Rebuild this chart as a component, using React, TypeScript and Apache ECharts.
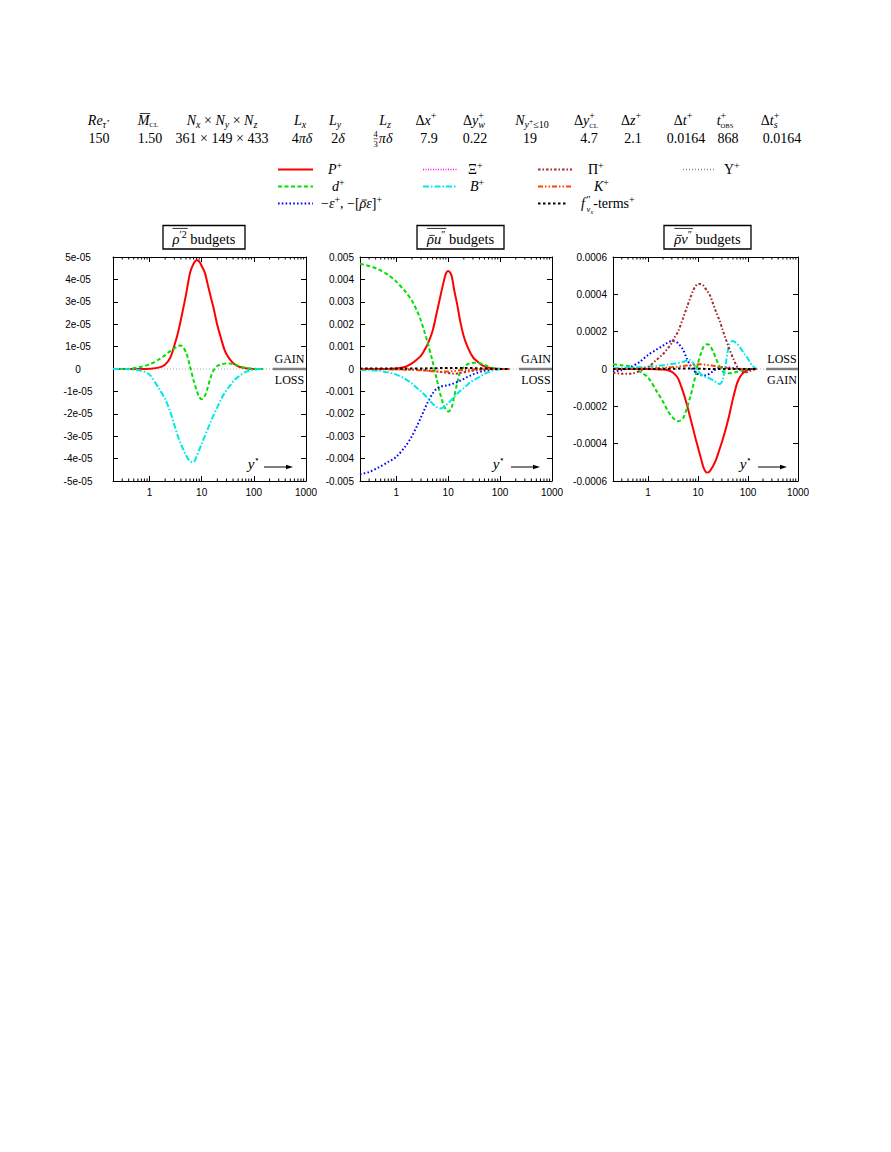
import React, { useEffect, useRef } from 'react';
import * as echarts from 'echarts';

// ---------------- data ----------------
const Y_STAR = [0.2, 0.3, 0.45, 0.7, 1, 1.5, 2, 2.5, 3, 3.5, 4, 5, 6, 7, 8, 9, 10, 11.5, 13, 15, 17, 20, 23, 27, 31, 36, 42, 50, 60, 70, 85, 100, 120, 150];

// rho'^2 budgets
const RHO2_P = [0, 0, 0, 0, 0.01e-5, 0.06e-5, 0.2e-5, 0.5e-5, 1.05e-5, 1.6e-5, 2.2e-5, 3.3e-5, 4.3e-5, 4.7e-5, 4.85e-5, 4.8e-5, 4.6e-5, 4.3e-5, 3.8e-5, 3.2e-5, 2.7e-5, 1.95e-5, 1.45e-5, 0.9e-5, 0.6e-5, 0.38e-5, 0.22e-5, 0.12e-5, 0.06e-5, 0.03e-5, 0.01e-5, 0, 0, 0];
const RHO2_D = [0, 0, 0.02e-5, 0.1e-5, 0.2e-5, 0.42e-5, 0.62e-5, 0.8e-5, 0.92e-5, 1.03e-5, 1.05e-5, 0.75e-5, 0.1e-5, -0.5e-5, -0.95e-5, -1.25e-5, -1.35e-5, -1.2e-5, -0.85e-5, -0.35e-5, -0.05e-5, 0.13e-5, 0.2e-5, 0.24e-5, 0.25e-5, 0.24e-5, 0.2e-5, 0.15e-5, 0.09e-5, 0.05e-5, 0.02e-5, 0.01e-5, 0, 0];
const RHO2_B = [0, 0, -0.02e-5, -0.08e-5, -0.25e-5, -0.85e-5, -1.35e-5, -1.9e-5, -2.5e-5, -3.0e-5, -3.35e-5, -3.85e-5, -4.12e-5, -4.15e-5, -3.9e-5, -3.6e-5, -3.35e-5, -3.0e-5, -2.7e-5, -2.35e-5, -2.05e-5, -1.7e-5, -1.4e-5, -1.1e-5, -0.9e-5, -0.7e-5, -0.5e-5, -0.35e-5, -0.22e-5, -0.13e-5, -0.06e-5, -0.03e-5, -0.01e-5, 0];

// rho u'' budgets
const RU_P = [0, 0, 0, 0, 0.00002, 0.0001, 0.00025, 0.00042, 0.0006, 0.00085, 0.0011, 0.0017, 0.0025, 0.0032, 0.0038, 0.00425, 0.00438, 0.0042, 0.00355, 0.00285, 0.00215, 0.00145, 0.00105, 0.0007, 0.00048, 0.00035, 0.00022, 0.00012, 0.00006, 0.00003, 0.00001, 0, 0, 0];
const RU_D = [0.0047, 0.0046, 0.00445, 0.0042, 0.0039, 0.00345, 0.00305, 0.0026, 0.00215, 0.00165, 0.0012, 0.00035, -0.00045, -0.0011, -0.00155, -0.0018, -0.0019, -0.00175, -0.00125, -0.0006, -0.00015, 0.00008, 0.0002, 0.00026, 0.00028, 0.00028, 0.00025, 0.00018, 0.0001, 0.00005, 0.00002, 0.00001, 0, 0];
const RU_EPS = [-0.0047, -0.0046, -0.0044, -0.00415, -0.00392, -0.00345, -0.003, -0.00255, -0.00215, -0.0018, -0.0015, -0.0011, -0.00088, -0.0008, -0.00076, -0.00074, -0.00072, -0.00068, -0.00064, -0.00058, -0.00052, -0.00044, -0.00036, -0.00029, -0.00023, -0.00017, -0.00012, -0.00008, -0.00004, -0.00002, -0.00001, 0, 0, 0];
const RU_B = [-0.00003, -0.00005, -0.00008, -0.00015, -0.00025, -0.00045, -0.00065, -0.00085, -0.001, -0.00115, -0.0013, -0.00155, -0.0017, -0.00176, -0.00172, -0.00162, -0.00152, -0.00138, -0.00125, -0.0011, -0.00098, -0.00085, -0.00072, -0.00058, -0.0005, -0.00042, -0.00032, -0.00022, -0.00013, -0.00007, -0.00003, -0.00001, 0, 0];
const RU_PI = [0, 0, 0, -0.000005, -0.00001, -0.00002, -0.00003, -0.00004, -0.00005, -0.00006, -0.00007, -0.00009, -0.00011, -0.00013, -0.00015, -0.00017, -0.00018, -0.0002, -0.00021, -0.0002, -0.00018, -0.00015, -0.00012, -0.00009, -0.00007, -0.00005, -0.00003, -0.00002, -0.00001, 0, 0, 0, 0, 0];
const RU_K = [0, 0, -0.00001, -0.000015, -0.00002, -0.00003, -0.00004, -0.00005, -0.00006, -0.00007, -0.00008, -0.0001, -0.00011, -0.00012, -0.00012, -0.000115, -0.00011, -0.0001, -0.00009, -0.000075, -0.00006, -0.00005, -0.00004, -0.00003, -0.00002, -0.000015, -0.00001, -0.000005, 0, 0, 0, 0, 0, 0];
const RU_F = [0.00002, 0.00002, 0.00002, 0.00002, 0.00002, 0.00002, 0.00002, 0.00002, 0.00002, 0.000025, 0.00003, 0.00003, 0.000035, 0.00004, 0.00004, 0.000045, 0.000045, 0.00005, 0.00005, 0.00005, 0.00005, 0.00005, 0.000045, 0.00004, 0.00004, 0.000035, 0.00003, 0.00002, 0.000015, 0.00001, 0.000005, 0, 0, 0];

// rho v'' budgets
const RV_P = [0, 0, 0, 0, 0, -0.000001, -0.000003, -0.000007, -0.000015, -0.00003, -0.00005, -0.00012, -0.00019, -0.00026, -0.00032, -0.000375, -0.00042, -0.00048, -0.00053, -0.000555, -0.00055, -0.00052, -0.000485, -0.00043, -0.00038, -0.00032, -0.00025, -0.00016, -0.00008, -0.00004, -0.000015, -0.000005, 0, 0];
const RV_D = [0.000025, 0.00002, 0.000012, -0.000015, -0.000045, -0.00012, -0.000175, -0.000225, -0.000255, -0.000272, -0.00028, -0.000265, -0.00021, -0.00015, -0.00009, -0.00003, 0.00003, 0.000085, 0.00012, 0.000132, 0.000128, 0.000095, 0.000055, 0.000015, -0.000012, -0.000022, -0.000023, -0.00002, -0.000015, -0.00001, -0.000005, -0.000002, 0, 0];
const RV_EPS = [-0.000015, -0.000005, 0.00001, 0.00004, 0.000075, 0.000105, 0.000125, 0.000142, 0.00015, 0.000147, 0.000138, 0.000105, 0.000055, 0.00002, -0.000005, -0.000018, -0.000028, -0.000033, -0.000035, -0.000033, -0.000025, -0.000012, 0, 0.000008, 0.00001, 0.00001, 0.000008, 0.000005, 0.000003, 0.000001, 0, 0, 0, 0];
const RV_B = [0.000005, 0.000006, 0.000008, 0.00001, 0.000012, 0.000016, 0.00002, 0.000024, 0.000027, 0.000029, 0.000031, 0.000038, 0.000046, 0.000048, 0.00003, 0.00001, -0.000008, -0.000028, -0.000038, -0.000045, -0.00005, -0.00006, -0.00007, -0.00008, -0.00006, 0.00003, 0.00013, 0.00015, 0.000135, 0.000115, 0.00008, 0.000055, 0.00002, 0];
const RV_PI = [-0.00002, -0.000025, -0.000025, -0.00001, 0.00001, 0.00005, 0.00008, 0.00011, 0.00014, 0.000175, 0.0002, 0.00027, 0.00033, 0.00038, 0.00042, 0.000445, 0.000455, 0.000455, 0.000445, 0.00042, 0.0004, 0.00035, 0.000305, 0.00026, 0.00021, 0.00016, 0.00011, 0.00006, 0.000015, -0.000005, -0.00002, -0.000015, -0.000005, 0];
const RV_K = [0, 0, 0.000001, 0.000002, 0.000003, 0.0000045, 0.000006, 0.000008, 0.00001, 0.0000115, 0.000013, 0.000016, 0.000019, 0.000021, 0.000023, 0.000024, 0.000025, 0.000025, 0.000024, 0.000022, 0.00002, 0.000017, 0.000014, 0.00001, 0.000008, 0.000005, 0.0000035, 0.000002, 0.000001, 0.0000005, 0, 0, 0, 0];
const RV_F = [0, 0, 0, 0, 0, 0, 0.000001, 0.000001, 0.000002, 0.000002, 0.000003, 0.000003, 0.000003, 0.000003, 0.000003, 0.000002, 0.000002, 0.000001, 0.000001, 0, 0, 0, 0, 0, 0, 0, 0, 0, 0, 0, 0, 0, 0, 0];

// axes
const X_MIN = 0.2;
const X_MAX = 1000;
const X_MINOR_TICKS = [0.3, 0.4, 0.5, 0.6, 0.7, 0.8, 0.9, 2, 3, 4, 5, 6, 7, 8, 9, 20, 30, 40, 50, 60, 70, 80, 90, 200, 300, 400, 500, 600, 700, 800, 900];
const ZERO_LINE = [[0.2, 0], [230, 0]];
const GAIN_LOSS_BAR = [[230, 0], [1000, 0]];

// ---------------- styles ----------------
const SERIF = '"Liberation Serif", "DejaVu Serif", serif';
const SANS = '"Liberation Sans", Arial, sans-serif';
const BASE = 14;

const STY: Record<string, { color: string; type: any; width: number }> = {
  P: { color: '#ff0000', type: 'solid', width: 2 },
  d: { color: '#00e000', type: [4, 2.5], width: 2 },
  eps: { color: '#0000ff', type: [1.6, 2.2], width: 2 },
  Xi: { color: '#ff00ff', type: [1, 1.5], width: 1.5 },
  B: { color: '#00e8e8', type: [6, 2, 1.5, 2], width: 2 },
  Pi: { color: '#a52a2a', type: [2.5, 2, 1.5, 2], width: 2 },
  K: { color: '#ff4500', type: [5, 2, 1.5, 2, 1.5, 2], width: 2 },
  f: { color: '#000000', type: [2.5, 2.5], width: 2 },
  U: { color: '#888888', type: [1, 2], width: 1.5 },
};

// ---------------- text helpers ----------------
type Tok = { t: string; i?: boolean; s?: number; dy?: number; st?: boolean; bar?: boolean; bh?: number; ol?: boolean; dx?: number; fb?: boolean };

let _ctx: CanvasRenderingContext2D | null = null;
function tw(t: string, size: number, italic: boolean) {
  if (!_ctx) _ctx = document.createElement('canvas').getContext('2d');
  _ctx!.font = `${italic ? 'italic ' : ''}${size}px ${SERIF}`;
  return _ctx!.measureText(t).width;
}

function hline(x1: number, x2: number, y: number, w = 0.8, color = '#000', dash?: number[]) {
  return { type: 'line', z: 50, shape: { x1, y1: y, x2, y2: y }, style: { stroke: color, lineWidth: w, lineDash: dash } };
}

function math(x: number, cy: number, toks: Tok[], align: 'left' | 'center' | 'right' = 'center', base = BASE): any[] {
  const placed: any[] = [];
  let pStart = 0, pEnd = 0;
  for (const tk of toks) {
    const s = tk.s ?? base;
    const w = tw(tk.t, s, !!tk.i);
    let x0: number;
    if (tk.st) {
      x0 = pStart + (tk.dx ?? 0);
      pEnd = Math.max(pEnd, x0 + w);
    } else {
      x0 = pEnd + (tk.dx ?? 0);
      pStart = x0;
      pEnd = x0 + w;
    }
    placed.push({ tk, x0, w, s });
  }
  const total = pEnd;
  const off = align === 'center' ? x - total / 2 : align === 'right' ? x - total : x;
  const baseline = cy + 0.32 * base;
  const out: any[] = [];
  let olMin = Infinity, olMax = -Infinity;
  for (const p of placed) {
    const yy = baseline - 0.32 * p.s + (p.tk.dy ?? 0);
    out.push({
      type: 'text', z: 50, x: off + p.x0, y: yy,
      style: { text: p.tk.t, font: `${p.tk.i ? 'italic ' : ''}${p.s}px ${SERIF}`, fill: '#000', textAlign: 'left', textVerticalAlign: 'middle' },
    });
    if (p.tk.bar) {
      const by = yy - (p.tk.bh ?? 0.46) * p.s;
      const sh = p.tk.i ? 0.12 * p.s : 0;
      out.push(hline(off + p.x0 + sh + 0.5, off + p.x0 + p.w + sh * 0.5, by, 0.8));
    }
    if (p.tk.fb) {
      out.push(hline(off + p.x0, off + p.x0 + p.w, cy + 0.8, 0.6));
    }
    if (p.tk.ol) {
      olMin = Math.min(olMin, off + p.x0);
      olMax = Math.max(olMax, off + p.x0 + p.w);
    }
  }
  if (olMin < olMax) out.push(hline(olMin, olMax + 1, cy - 0.66 * base - 1, 0.8));
  return out;
}

const SUP = (t: string): Tok => ({ t, s: 10, dy: -5.5 });

// ---------------- header table ----------------
const HEADER_COLS: { hx: number; vx: number; head: Tok[]; val: Tok[] }[] = [
  { hx: 99, vx: 99, head: [{ t: 'Re', i: true }, { t: 'τ', i: true, s: 10, dy: 3 }, { t: '⋆', s: 7, dy: -1 }], val: [{ t: '150' }] },
  { hx: 148, vx: 150, head: [{ t: 'M', i: true, bar: true }, { t: 'CL', s: 7, dy: 3 }], val: [{ t: '1.50' }] },
  { hx: 222, vx: 222, head: [{ t: 'N', i: true }, { t: 'x', i: true, s: 10, dy: 3 }, { t: ' × ' }, { t: 'N', i: true }, { t: 'y', i: true, s: 10, dy: 3 }, { t: ' × ' }, { t: 'N', i: true }, { t: 'z', i: true, s: 10, dy: 3 }], val: [{ t: '361 × 149 × 433' }] },
  { hx: 300, vx: 302, head: [{ t: 'L', i: true }, { t: 'x', i: true, s: 10, dy: 3 }], val: [{ t: '4' }, { t: 'πδ', i: true }] },
  { hx: 335, vx: 338, head: [{ t: 'L', i: true }, { t: 'y', i: true, s: 10, dy: 3 }], val: [{ t: '2' }, { t: 'δ', i: true }] },
  { hx: 385, vx: 383, head: [{ t: 'L', i: true }, { t: 'z', i: true, s: 10, dy: 3 }], val: [{ t: '4', s: 8.5, dy: -6, fb: true }, { t: '3', s: 8.5, dy: 4, st: true }, { t: 'πδ', i: true, dx: 1 }] },
  { hx: 426, vx: 429, head: [{ t: 'Δ' }, { t: 'x', i: true }, SUP('+')], val: [{ t: '7.9' }] },
  { hx: 474, vx: 475, head: [{ t: 'Δ' }, { t: 'y', i: true }, SUP('+'), { t: 'w', i: true, s: 10, dy: 3.5, st: true }], val: [{ t: '0.22' }] },
  { hx: 532, vx: 530, head: [{ t: 'N', i: true }, { t: 'y', i: true, s: 10, dy: 3 }, { t: '+', s: 7.5, dy: -0.5 }, { t: '≤10', s: 10, dy: 3 }], val: [{ t: '19' }] },
  { hx: 586, vx: 589, head: [{ t: 'Δ' }, { t: 'y', i: true }, SUP('+'), { t: 'CL', s: 7, dy: 3.5, st: true }], val: [{ t: '4.7' }] },
  { hx: 631, vx: 633, head: [{ t: 'Δ' }, { t: 'z', i: true }, SUP('+')], val: [{ t: '2.1' }] },
  { hx: 683, vx: 686, head: [{ t: 'Δ' }, { t: 't', i: true }, SUP('+')], val: [{ t: '0.0164' }] },
  { hx: 725, vx: 728, head: [{ t: 't', i: true }, SUP('+'), { t: 'OBS', s: 6.5, dy: 3.5, st: true }], val: [{ t: '868' }] },
  { hx: 770, vx: 782, head: [{ t: 'Δ' }, { t: 't', i: true }, SUP('+'), { t: 's', i: true, s: 10, dy: 3.5, st: true }], val: [{ t: '0.0164' }] },
];
const HEADER_Y = 120;
const VALUE_Y = 138;

// ---------------- legend ----------------
const LEGEND: { key: string; x1: number; x2: number; y: number; lx: number; label: Tok[] }[] = [
  { key: 'P', x1: 278, x2: 313, y: 169.5, lx: 328, label: [{ t: 'P', i: true }, SUP('+')] },
  { key: 'd', x1: 278, x2: 313, y: 186.5, lx: 332, label: [{ t: 'd', i: true }, SUP('+')] },
  { key: 'eps', x1: 278, x2: 313, y: 203.5, lx: 321, label: [{ t: '−' }, { t: 'ε', i: true }, SUP('+'), { t: ', −[' }, { t: 'ρ', i: true, bar: true, bh: 0.25 }, { t: 'ε', i: true }, { t: ']' }, SUP('+')] },
  { key: 'Xi', x1: 423, x2: 457, y: 169.5, lx: 468, label: [{ t: 'Ξ' }, SUP('+')] },
  { key: 'B', x1: 423, x2: 457, y: 186.5, lx: 470, label: [{ t: 'B', i: true }, SUP('+')] },
  { key: 'Pi', x1: 538, x2: 572, y: 169.5, lx: 588, label: [{ t: 'Π' }, SUP('+')] },
  { key: 'K', x1: 538, x2: 572, y: 186.5, lx: 594, label: [{ t: 'K', i: true }, SUP('+')] },
  { key: 'f', x1: 538, x2: 567, y: 203.5, lx: 581, label: [{ t: 'f', i: true }, { t: '″', s: 10, dy: -5.5, dx: 1.5 }, { t: 'v', i: true, s: 8.5, dy: 3.5, st: true }, { t: 'x', i: true, s: 6, dy: 5.5 }, { t: '-terms' }, SUP('+')] },
  { key: 'U', x1: 683, x2: 716, y: 169.5, lx: 724, label: [{ t: 'Υ' }, SUP('+')] },
];

// ---------------- panels ----------------
const fmtE5 = (v: number) => { const k = Math.round(v / 1e-5); return k === 0 ? '0' : `${k}e-05`; };
const fmt3 = (v: number) => (Math.abs(v) < 1e-9 ? '0' : v.toFixed(3));
const fmt4 = (v: number) => (Math.abs(v) < 1e-10 ? '0' : v.toFixed(4));

const PANELS = [
  {
    grid: { left: 113, top: 257, width: 193, height: 224 }, yMin: -5e-5, yMax: 5e-5, yInt: 1e-5, fmt: fmtE5, align: 'center', margin: 35,
    curves: [['P', RHO2_P], ['d', RHO2_D], ['B', RHO2_B]] as [string, number[]][],
    title: [{ t: 'ρ', i: true, ol: true }, { t: '′2', s: 10, dy: -5.5, ol: true }, { t: ' budgets' }] as Tok[],
    box: { x: 163, w: 82 }, gl: ['GAIN', 'LOSS'], glx: 289.5, ystar: 254, arrow: [264, 293],
  },
  {
    grid: { left: 360, top: 257, width: 192, height: 224 }, yMin: -0.005, yMax: 0.005, yInt: 0.001, fmt: fmt3, align: 'right', margin: 6,
    curves: [['P', RU_P], ['d', RU_D], ['eps', RU_EPS], ['B', RU_B], ['Pi', RU_PI], ['K', RU_K], ['f', RU_F]] as [string, number[]][],
    title: [{ t: 'ρ', i: true, bar: true, bh: 0.25, ol: true }, { t: 'u', i: true, ol: true }, { t: '″', s: 10, dy: -5.5, ol: true }, { t: ' budgets' }] as Tok[],
    box: { x: 417, w: 87 }, gl: ['GAIN', 'LOSS'], glx: 536, ystar: 499, arrow: [511, 540],
  },
  {
    grid: { left: 613, top: 257, width: 185, height: 224 }, yMin: -0.0006, yMax: 0.0006, yInt: 0.0002, fmt: fmt4, align: 'right', margin: 6,
    curves: [['P', RV_P], ['d', RV_D], ['eps', RV_EPS], ['B', RV_B], ['Pi', RV_PI], ['K', RV_K], ['f', RV_F]] as [string, number[]][],
    title: [{ t: 'ρ', i: true, bar: true, bh: 0.25, ol: true }, { t: 'v', i: true, ol: true }, { t: '″', s: 10, dy: -5.5, ol: true }, { t: ' budgets' }] as Tok[],
    box: { x: 664, w: 87 }, gl: ['LOSS', 'GAIN'], glx: 782, ystar: 746, arrow: [758, 787],
  },
];

const xLabelFmt = (v: number) => {
  const l = Math.log10(v);
  const r = Math.round(l);
  return Math.abs(l - r) < 1e-6 && r >= 0 ? String(Math.pow(10, r)) : '';
};

function buildOption() {
  const grid: any[] = [];
  const xAxis: any[] = [];
  const yAxis: any[] = [];
  const series: any[] = [];
  const elements: any[] = [];
  const axisLine = { show: true, onZero: false, lineStyle: { color: '#000', width: 1 } };

  PANELS.forEach((pn, i) => {
    grid.push({ ...pn.grid, containLabel: false });
    const xBase = { type: 'log', logBase: 10, min: X_MIN, max: X_MAX, gridIndex: i, axisLine, splitLine: { show: false }, axisTick: { show: true, inside: true, length: 5, lineStyle: { color: '#000' } } };
    xAxis.push({ ...xBase, position: 'bottom', axisLabel: { show: true, formatter: xLabelFmt, margin: 6, fontFamily: SANS, fontSize: 10, color: '#000', showMinLabel: true, showMaxLabel: true } });
    xAxis.push({ ...xBase, position: 'top', axisLabel: { show: false } });
    const yBase = { type: 'value', min: pn.yMin, max: pn.yMax, interval: pn.yInt, gridIndex: i, axisLine, splitLine: { show: false }, axisTick: { show: true, inside: true, length: 5, lineStyle: { color: '#000' } } };
    yAxis.push({ ...yBase, position: 'left', axisLabel: { show: true, formatter: pn.fmt, margin: pn.margin, align: pn.align, fontFamily: SANS, fontSize: 10, color: '#000' } });
    yAxis.push({ ...yBase, position: 'right', axisLabel: { show: false } });
    const xi = 2 * i, yi = 2 * i;

    series.push({ type: 'line', xAxisIndex: xi, yAxisIndex: yi, data: ZERO_LINE, showSymbol: false, silent: true, z: 1, lineStyle: { color: '#aaaaaa', width: 1, type: [1, 2] } });
    series.push({ type: 'line', xAxisIndex: xi, yAxisIndex: yi, data: GAIN_LOSS_BAR, showSymbol: false, silent: true, z: 1, clip: false, lineStyle: { color: '#808080', width: 2.5 } });

    pn.curves.forEach(([key, vals], k) => {
      const st = STY[key];
      series.push({
        type: 'line', xAxisIndex: xi, yAxisIndex: yi, showSymbol: false, smooth: 0.3, silent: true, z: 2 + k,
        data: Y_STAR.map((x, j) => [x, vals[j]]),
        lineStyle: { color: st.color, width: st.width, type: st.type, cap: 'butt' },
      });
    });

    const yMin = pn.yMin, yMax = pn.yMax;
    series.push({
      type: 'custom', xAxisIndex: xi, yAxisIndex: yi, silent: true, z: 20, clip: false,
      data: X_MINOR_TICKS.map((v) => [v, 0]),
      renderItem: (params: any, api: any) => {
        const v = api.value(0);
        const b = api.coord([v, yMin]);
        const t = api.coord([v, yMax]);
        return {
          type: 'group',
          children: [
            { type: 'line', shape: { x1: b[0], y1: b[1], x2: b[0], y2: b[1] - 2.5 }, style: { stroke: '#000', lineWidth: 1 } },
            { type: 'line', shape: { x1: t[0], y1: t[1], x2: t[0], y2: t[1] + 2.5 }, style: { stroke: '#000', lineWidth: 1 } },
          ],
        };
      },
    });

    // title box
    const cx = pn.box.x + pn.box.w / 2;
    elements.push({ type: 'rect', z: 40, shape: { x: pn.box.x, y: 225.5, width: pn.box.w, height: 23.5 }, style: { fill: '#fff', stroke: '#000', lineWidth: 1.3 } });
    elements.push(...math(cx, 239, pn.title, 'center', 14.5));

    // gain / loss
    elements.push({ type: 'text', z: 50, x: pn.glx, y: 359, style: { text: pn.gl[0], font: `12px ${SERIF}`, fill: '#000', textAlign: 'center', textVerticalAlign: 'middle' } });
    elements.push({ type: 'text', z: 50, x: pn.glx, y: 379.5, style: { text: pn.gl[1], font: `12px ${SERIF}`, fill: '#000', textAlign: 'center', textVerticalAlign: 'middle' } });

    // y* arrow
    elements.push(...math(pn.ystar, 464, [{ t: 'y', i: true, s: 15 }, { t: '⋆', s: 9, dy: -7 }], 'center', 15));
    elements.push(hline(pn.arrow[0], pn.arrow[1] - 4, 467, 1));
    elements.push({ type: 'polygon', z: 50, shape: { points: [[pn.arrow[1], 467], [pn.arrow[1] - 7, 464.8], [pn.arrow[1] - 7, 469.2]] }, style: { fill: '#000' } });
  });

  // header table
  HEADER_COLS.forEach((c) => {
    elements.push(...math(c.hx, HEADER_Y, c.head, 'center'));
    elements.push(...math(c.vx, VALUE_Y, c.val, 'center'));
  });

  // legend
  LEGEND.forEach((l) => {
    const st = STY[l.key];
    elements.push({ type: 'line', z: 50, shape: { x1: l.x1, y1: l.y, x2: l.x2, y2: l.y }, style: { stroke: st.color, lineWidth: st.width, lineDash: st.type === 'solid' ? null : st.type } });
    elements.push(...math(l.lx, l.y, l.label, 'left'));
  });

  return {
    animation: false,
    backgroundColor: '#ffffff',
    grid,
    xAxis,
    yAxis,
    series,
    graphic: { elements },
  };
}

export default function App() {
  const ref = useRef<HTMLDivElement>(null);
  useEffect(() => {
    const chart = echarts.init(ref.current!, undefined, { renderer: 'svg' });
    chart.setOption(buildOption() as any);
    return () => chart.dispose();
  }, []);
  return <div ref={ref} style={{ position: 'absolute', left: 0, top: 0, width: 891, height: 1152, background: '#fff' }} />;
}
